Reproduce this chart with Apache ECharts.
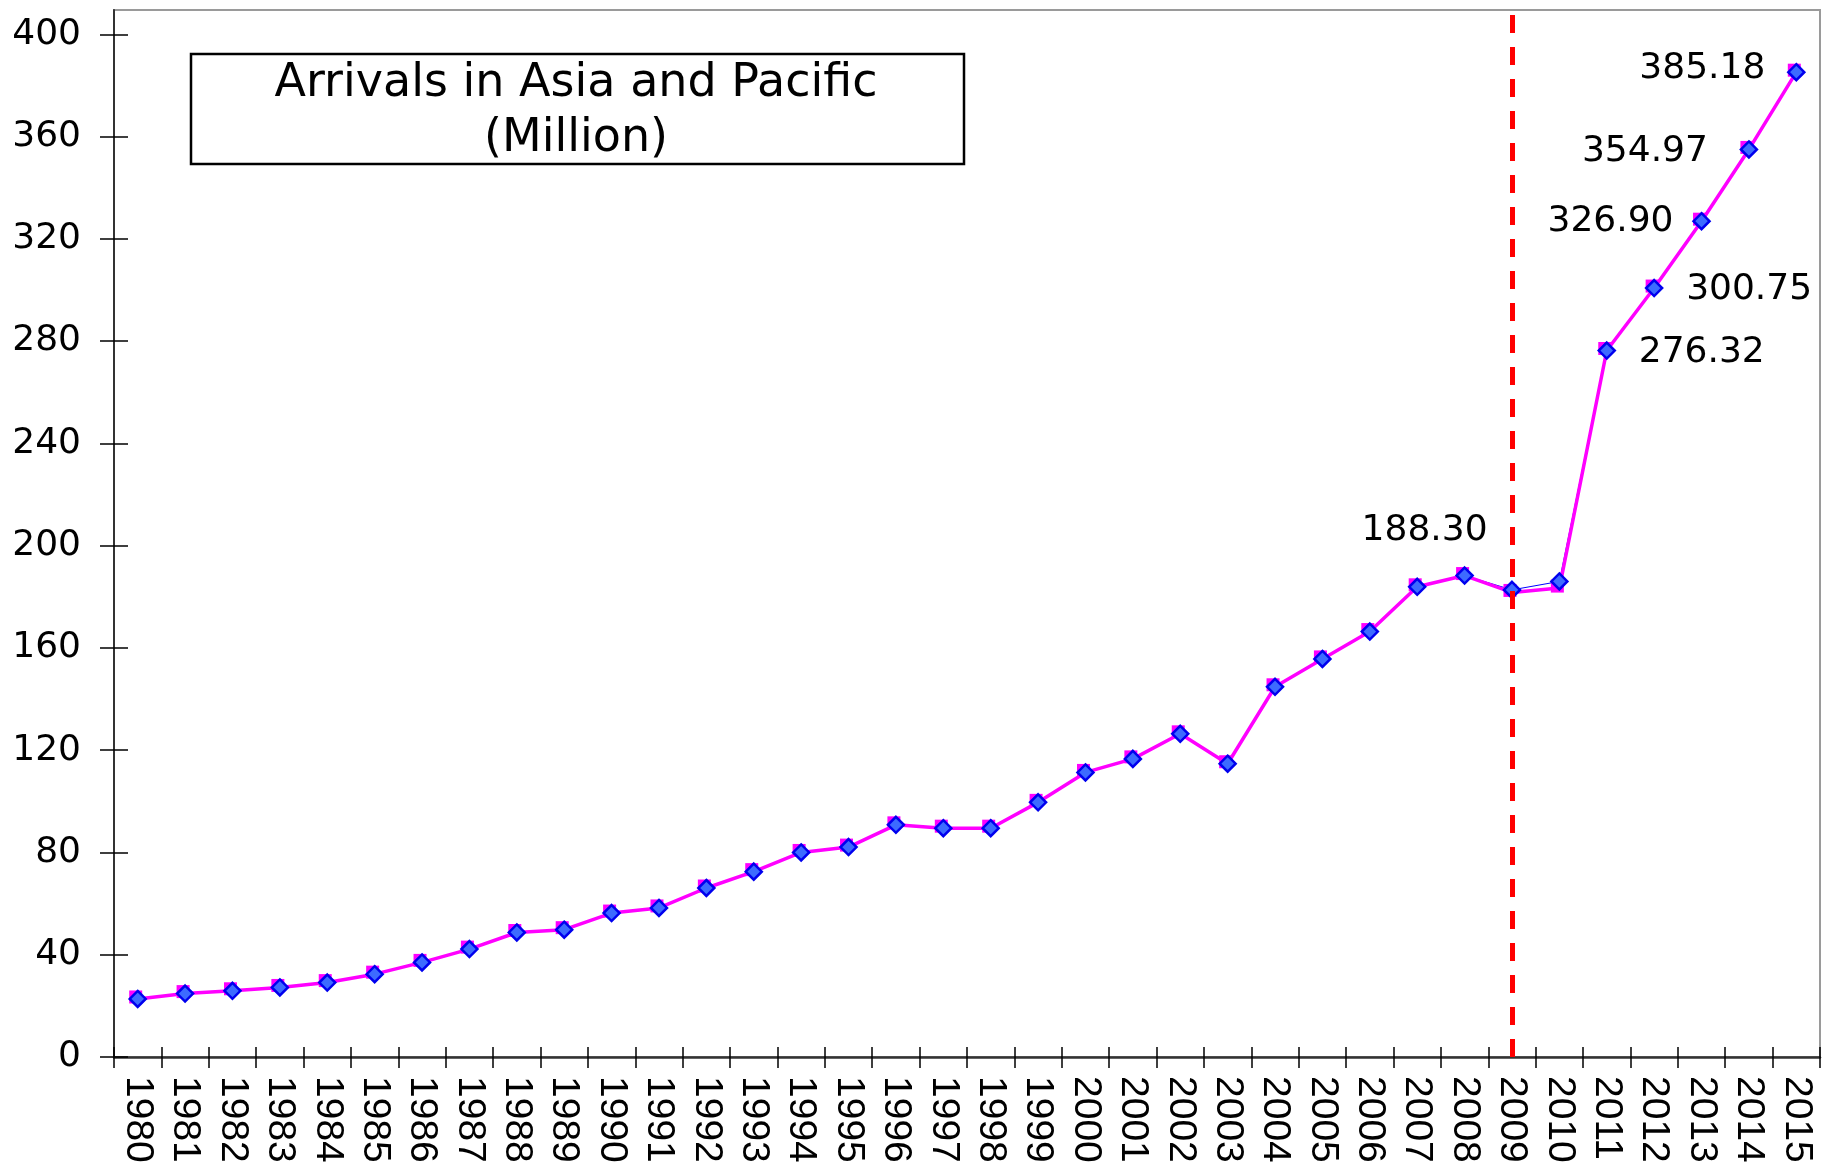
<!DOCTYPE html>
<html>
<head>
<meta charset="utf-8">
<script src="https://cdn.jsdelivr.net/npm/echarts@6/dist/echarts.min.js"></script>
<style>
  html, body { margin: 0; padding: 0; background: #ffffff; }
  #chart { width: 1829px; height: 1165px; }
</style>
</head>
<body>
<div id="chart"></div>
<script>
// ---- Data ----
const years = ['1980','1981','1982','1983','1984','1985','1986','1987','1988','1989',
  '1990','1991','1992','1993','1994','1995','1996','1997','1998','1999',
  '2000','2001','2002','2003','2004','2005','2006','2007','2008','2009',
  '2010','2011','2012','2013','2014','2015'];

// Blue diamond series (arrivals, million)
const arrivals = [22.7, 24.8, 25.9, 27.2, 29.1, 32.4, 37.0, 42.2, 48.7, 49.8,
  56.3, 58.3, 66.1, 72.5, 80.0, 82.1, 90.8, 89.5, 89.5, 99.6,
  111.3, 116.6, 126.4, 114.7, 144.8, 155.7, 166.4, 183.9, 188.30, 182.7,
  186.0, 276.32, 300.75, 326.90, 354.97, 385.18];

// Magenta square series (nearly identical, differs slightly at 2009/2010)
const trend = [22.7, 24.8, 25.9, 27.2, 29.1, 32.4, 37.0, 42.2, 48.7, 49.8,
  56.3, 58.3, 66.1, 72.5, 80.0, 82.1, 90.8, 89.5, 89.5, 99.6,
  111.3, 116.6, 126.4, 114.7, 144.8, 155.7, 166.4, 183.9, 188.30, 181.7,
  183.4, 276.32, 300.75, 326.90, 354.97, 385.18];

const yTicks = [0, 40, 80, 120, 160, 200, 240, 280, 320, 360, 400];
const labeledYears = ['2008', '2011', '2012', '2013', '2014', '2015'];
const markerYear = '2009';
const titleText = 'Arrivals in Asia and Pacific\n(Million)';

// ---- Label placement (style, not data) ----
const labelOffsets = {
  '2008': [-40, -45],
  '2011': [95, 2],
  '2012': [95, 2],
  '2013': [-91, 0],
  '2014': [-104, 2],
  '2015': [-94, -4]
};

const diamondData = arrivals.map((v, i) => {
  const y = years[i];
  if (labeledYears.indexOf(y) >= 0) {
    return {
      value: v,
      label: {
        show: true,
        position: 'inside',
        offset: labelOffsets[y],
        formatter: p => Number(p.value).toFixed(2),
        fontFamily: 'DejaVu Sans',
        fontSize: 36,
        color: '#000000'
      }
    };
  }
  return v;
});

const chart = echarts.init(document.getElementById('chart'), null, { renderer: 'canvas' });

const option = {
  animation: false,
  backgroundColor: '#ffffff',
  grid: {
    left: 114, right: 9, top: 10, bottom: 108,
    containLabel: false,
    outerBoundsMode: 'none',
    show: true, borderColor: '#9a9a9a', borderWidth: 2,
    backgroundColor: 'transparent'
  },
  graphic: [
    {
      type: 'rect', z: 10,
      shape: { x: 191, y: 54, width: 773, height: 110 },
      style: { fill: '#ffffff', stroke: '#000000', lineWidth: 2.5 }
    },
    {
      type: 'text', z: 11,
      x: 576, y: 57,
      style: {
        text: titleText,
        font: '46px "DejaVu Sans"',
        fill: '#000000',
        align: 'center',
        verticalAlign: 'top',
        lineHeight: 55
      }
    }
  ],
  xAxis: [
    {
      type: 'category',
      data: years,
      position: 'bottom',
      boundaryGap: true,
      axisLine: { show: true, lineStyle: { color: '#333333', width: 2.5 } },
      axisTick: { show: true, inside: false, length: 11, interval: 0,
        lineStyle: { color: '#000000', width: 1.5 } },
      axisLabel: {
        show: true, interval: 0, rotate: -90, margin: 19,
        fontFamily: 'Liberation Sans', fontSize: 39, color: '#000000'
      },
      splitLine: { show: false }
    },
    {
      type: 'category',
      data: years,
      position: 'bottom',
      boundaryGap: true,
      axisLine: { show: false },
      axisTick: { show: true, inside: true, length: 10, interval: 0,
        lineStyle: { color: '#000000', width: 1.5 } },
      axisLabel: { show: false },
      splitLine: { show: false }
    }
  ],
  yAxis: [
    {
      type: 'value',
      min: 0, max: 409.5,
      position: 'left',
      axisLine: { show: true, lineStyle: { color: '#333333', width: 2 } },
      axisTick: { show: true, inside: false, length: 14, customValues: yTicks,
        lineStyle: { color: '#000000', width: 1.5 } },
      axisLabel: {
        show: true, customValues: yTicks, margin: 33,
        fontFamily: 'DejaVu Sans', fontSize: 36, color: '#000000'
      },
      splitLine: { show: false }
    },
    {
      type: 'value',
      min: 0, max: 409.5,
      position: 'left',
      axisLine: { show: false },
      axisTick: { show: true, inside: true, length: 14, customValues: yTicks,
        lineStyle: { color: '#000000', width: 1.5 } },
      axisLabel: { show: false },
      splitLine: { show: false }
    }
  ],
  series: [
    {
      name: 'Arrivals (line)',
      type: 'line',
      data: arrivals,
      z: 2,
      symbol: 'none',
      lineStyle: { color: '#0000ff', width: 1 },
      itemStyle: { color: '#0000ff' }
    },
    {
      name: 'Arrivals (trend)',
      type: 'line',
      data: trend,
      z: 3,
      symbol: 'rect',
      symbolSize: 13,
      symbolOffset: [-2, -2],
      showAllSymbol: true,
      lineStyle: { color: '#ff00ff', width: 3.5 },
      itemStyle: { color: '#ff00ff' }
    },
    {
      name: 'Arrivals',
      type: 'scatter',
      data: diamondData,
      z: 4,
      symbol: 'diamond',
      symbolSize: 16,
      itemStyle: { color: '#3d6bff', borderColor: '#0000ee', borderWidth: 2.5, opacity: 1 },
      label: { show: false },
      markLine: {
        silent: true,
        symbol: ['none', 'none'],
        label: { show: false },
        lineStyle: { color: '#ff0000', width: 5, type: [18, 14] },
        data: [{ xAxis: markerYear }]
      }
    }
  ]
};

chart.setOption(option);
</script>
</body>
</html>
